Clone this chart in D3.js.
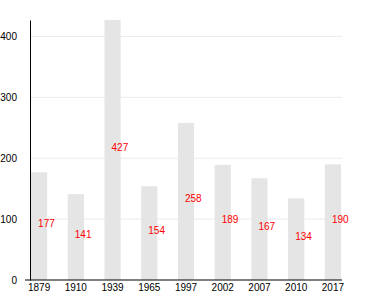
<!DOCTYPE html>
<html>
<head>
<meta charset="utf-8">
<script src="https://cdn.jsdelivr.net/npm/d3@7"></script>
<style>
  body { margin: 0; background: #fff; }
  svg text { font-family: "Liberation Sans", Arial, sans-serif; }
</style>
</head>
<body>
<div id="chart"></div>
<script>
var years = ['1879', '1910', '1939', '1965', '1997', '2002', '2007', '2010', '2017']
var counts = [177, 141, 427, 154, 258, 189, 167, 134, 190]
var yTicks = [0, 100, 200, 300, 400]

var width = 380, height = 300
var mLeft = 30, mRight = 342, mTop = 20, mBottom = 280

var svg = d3.select('#chart').append('svg')
    .attr('width', width)
    .attr('height', height)

var x = d3.scaleBand()
    .domain(years)
    .range([mLeft + 1, mRight - 1])
    .paddingInner(0.56)
    .paddingOuter(0)

var y = d3.scaleLinear()
    .domain([0, d3.max(counts)])
    .range([mBottom, mTop])

// grid
svg.append('g')
    .selectAll('line')
    .data(yTicks.slice(1))
    .enter()
    .append('line')
    .attr('x1', mLeft)
    .attr('x2', mRight)
    .attr('y1', d => y(d))
    .attr('y2', d => y(d))
    .attr('stroke', '#ebebeb')

// bars
svg.append('g')
    .selectAll('rect')
    .data(counts)
    .enter()
    .append('rect')
    .attr('x', (d, i) => x(years[i]))
    .attr('y', d => y(d))
    .attr('width', x.bandwidth())
    .attr('height', d => mBottom - y(d))
    .attr('fill', '#e5e5e5')

// value labels
svg.append('g')
    .selectAll('text')
    .data(counts)
    .enter()
    .append('text')
    .attr('x', (d, i) => x(years[i]) + x.bandwidth() / 2 - 1)
    .attr('y', d => y(d / 2) + 1)
    .attr('fill', 'red')
    .attr('font-size', 10)
    .text(d => d)

// y axis
var yAxis = svg.append('g')
    .attr('transform', 'translate(' + mLeft + ',0)')
    .call(d3.axisLeft(y).tickValues(yTicks).tickSize(0).tickPadding(13))
yAxis.select('.domain').attr('stroke', '#000')
yAxis.selectAll('text').attr('font-size', 10).attr('fill', '#000')

// x axis
var xAxis = svg.append('g')
    .attr('transform', 'translate(0,' + mBottom + ')')
    .call(d3.axisBottom(x).tickSize(0).tickPadding(4))
xAxis.select('.domain').remove()
xAxis.selectAll('text').attr('font-size', 10).attr('fill', '#000')
xAxis.append('line')
    .attr('x1', mLeft - 5)
    .attr('x2', mRight)
    .attr('stroke', '#000')
</script>
</body>
</html>
